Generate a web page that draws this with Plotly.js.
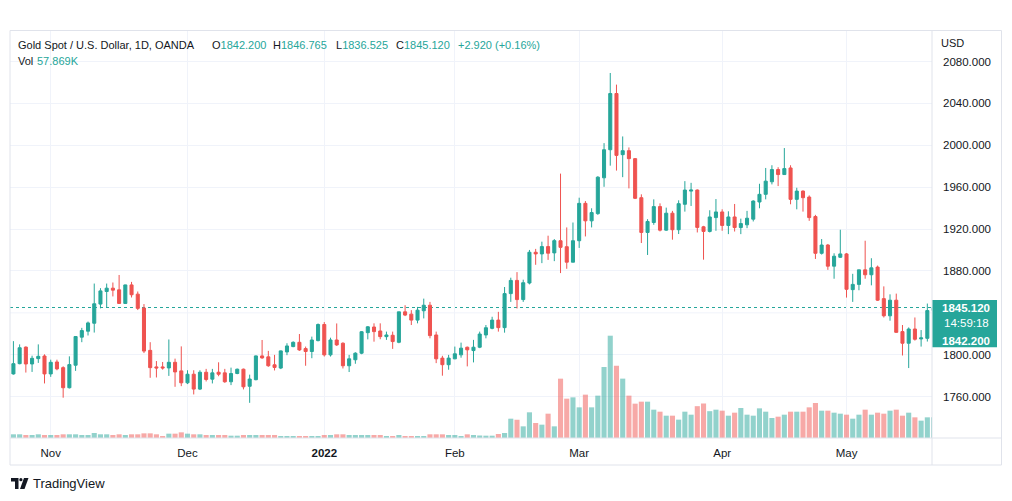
<!DOCTYPE html>
<html><head><meta charset="utf-8">
<script src="https://cdn.plot.ly/plotly-3.0.1.min.js"></script>
<style>html,body{margin:0;padding:0;background:#fff;}#chart{width:1012px;height:501px;}</style>
</head><body><div id="chart"></div>
<script>
const dates = [
'2021-10-22','2021-10-25','2021-10-26','2021-10-27','2021-10-28','2021-10-29',
'2021-11-01','2021-11-02','2021-11-03','2021-11-04','2021-11-05','2021-11-08','2021-11-09','2021-11-10','2021-11-11','2021-11-12',
'2021-11-15','2021-11-16','2021-11-17','2021-11-18','2021-11-19','2021-11-22','2021-11-23','2021-11-24','2021-11-25','2021-11-26','2021-11-29','2021-11-30',
'2021-12-01','2021-12-02','2021-12-03','2021-12-06','2021-12-07','2021-12-08','2021-12-09','2021-12-10','2021-12-13','2021-12-14','2021-12-15',
'2021-12-16','2021-12-17','2021-12-20','2021-12-21','2021-12-22','2021-12-23','2021-12-27','2021-12-28','2021-12-29','2021-12-30','2021-12-31',
'2022-01-03','2022-01-04','2022-01-05','2022-01-06','2022-01-07','2022-01-10','2022-01-11','2022-01-12','2022-01-13','2022-01-14',
'2022-01-17','2022-01-18','2022-01-19','2022-01-20','2022-01-21','2022-01-24','2022-01-25','2022-01-26','2022-01-27','2022-01-28','2022-01-31',
'2022-02-01','2022-02-02','2022-02-03','2022-02-04','2022-02-07','2022-02-08','2022-02-09','2022-02-10','2022-02-11',
'2022-02-14','2022-02-15','2022-02-16','2022-02-17','2022-02-18','2022-02-21','2022-02-22','2022-02-23','2022-02-24','2022-02-25','2022-02-28',
'2022-03-01','2022-03-02','2022-03-03','2022-03-04','2022-03-07','2022-03-08','2022-03-09','2022-03-10','2022-03-11',
'2022-03-14','2022-03-15','2022-03-16','2022-03-17','2022-03-18','2022-03-21','2022-03-22','2022-03-23','2022-03-24','2022-03-25',
'2022-03-28','2022-03-29','2022-03-30','2022-03-31',
'2022-04-01','2022-04-04','2022-04-05','2022-04-06','2022-04-07','2022-04-08','2022-04-11','2022-04-12','2022-04-13','2022-04-14',
'2022-04-18','2022-04-19','2022-04-20','2022-04-21','2022-04-22','2022-04-25','2022-04-26','2022-04-27','2022-04-28','2022-04-29',
'2022-05-02','2022-05-03','2022-05-04','2022-05-05','2022-05-06','2022-05-09','2022-05-10','2022-05-11','2022-05-12','2022-05-13',
'2022-05-16','2022-05-17','2022-05-18','2022-05-19','2022-05-20'
];
const opens = [
1781.7,1791.5,1807.3,1791.2,1796.3,1798.8,1781.7,1793.1,1787.7,1768.5,
1790,1816.8,1822.5,1830.1,1848.4,1860.4,1863.6,1862,1849,1866.7,
1857.9,1844.6,1804.2,1788.4,1788.4,1787.4,1792.8,1784.6,1773.2,1781.4,
1767.2,1783.3,1776.7,1783.3,1782.7,1774.2,1782.1,1786.2,1769.9,1776.2,
1798.9,1798,1790.4,1787.3,1802.7,1807.8,1811.9,1805.9,1803.1,1813.5,
1828.9,1799.9,1814.1,1811,1789.5,1795.2,1801.5,1821.1,1826.5,1822.7,
1817.3,1818.6,1811.9,1841,1838.8,1833.1,1842,1847.3,1818.9,1796.8,
1790.5,1796.1,1799.9,1807.2,1804,1807.2,1818.9,1825.2,1833.1,1825.9,
1858.4,1871,1852.7,1868.5,1897.9,1896.3,1903.3,1897.3,1908.9,1903.2,
1888.4,1908.9,1944.6,1927.9,1934.8,1969,1995.8,2049.5,1991.1,1994.9,
1987.3,1950,1916.8,1926.3,1941.5,1919,1935.2,1919.4,1943.7,1956.3,
1957.3,1922.2,1917.8,1931,1936.4,1923.5,1931.6,1921.5,1924.1,1929.5,
1945.9,1953.2,1965.2,1976.9,1972.1,1978.4,1948.4,1956.3,1950.6,1932,
1896.9,1904.8,1884.6,1893.1,1896.3,1862.2,1867.2,1881.1,1876.4,1883.7,
1853.6,1837.2,1852.1,1822.1,1811,1824.6,1815.1,1815.7,1842.2
];
const highs = [
1813,1809.9,1808,1799.1,1809.9,1800.4,1795.3,1795.3,1789,1798.5,
1817.8,1825.7,1831.7,1868,1863.6,1868,1869,1876.2,1866.9,1869.6,
1860.4,1848.4,1812,1794,1793.1,1814.6,1796.3,1808,1785.2,1785.2,
1785.2,1786.5,1786.5,1792.8,1786.5,1787.7,1786.8,1786.8,1781,1799.3,
1814.1,1803.7,1799.9,1804,1811,1812.8,1819.8,1807.8,1817.3,1829.9,
1831.2,1816.3,1829.9,1811.9,1799.9,1802.4,1822.6,1827.4,1830,1830,
1822.1,1822.1,1841,1847.3,1842.6,1845.7,1853.6,1850.5,1822.1,1799,
1799.9,1807.8,1811.6,1807.8,1814.2,1822.1,1828.4,1836.3,1841,1864.7,
1873.6,1878.9,1871.7,1900.1,1901.1,1908,1913.7,1910.5,1973,1921.6,
1926.3,1950,1946.8,1939.9,1970.5,2002.1,2069.1,2058,2008.5,1998,
1987.9,1953.2,1929.5,1948.4,1944.6,1940.5,1937.4,1947.5,1965.8,1964.2,
1957.9,1923.1,1938,1948.7,1938.9,1937,1944,1930,1937.4,1947.5,
1963.3,1978.4,1981,1979.1,1997.4,1981,1959.5,1957,1952.2,1933.6,
1910.5,1905.8,1896.9,1919.4,1897.2,1877.3,1881.1,1908.9,1892.2,1885.2,
1865.3,1857.7,1858.4,1828.4,1826.1,1835.6,1823.6,1848.9,1846.765
];
const lows = [
1781,1790.9,1783,1783.6,1792.2,1772.6,1778.9,1785.2,1759,1767.8,
1784.6,1812,1818.4,1821.2,1844.3,1845.2,1855.7,1848.7,1848.7,1854.7,
1842.7,1801.6,1778,1778.3,1785.8,1779.8,1769.4,1770,1772,1762.1,
1766.3,1774.5,1772.6,1779.5,1773.2,1771,1781.4,1766.9,1754.1,1775.6,
1796.1,1788.5,1785,1786.3,1799.6,1807.2,1803.7,1789.5,1796.7,1812.8,
1798.3,1798.3,1808.4,1786.9,1783.5,1791.4,1800.5,1814.7,1812.5,1814.8,
1814.2,1805.6,1811,1836.9,1828.4,1830,1834.7,1815.7,1792,1780,
1785.7,1795.8,1797.2,1788.9,1792.7,1806.3,1815.7,1824.3,1822.1,1821.1,
1850.5,1844.2,1850.5,1867.2,1885.9,1887.5,1890.6,1889.4,1878,1882.1,
1888.4,1902,1913,1921.6,1933.6,1960.4,1980.6,1975.9,1969.6,1958.9,
1948.7,1906.7,1895.3,1924.1,1917.8,1918.4,1909.9,1915.3,1936.7,1942.1,
1916.8,1890.8,1916.8,1918.4,1918.4,1915.2,1917.7,1915.2,1920.9,1927.3,
1939.9,1948.4,1962.7,1961.1,1972.1,1943.7,1938.9,1936.7,1927.9,1891.5,
1895.7,1881.1,1872.6,1892.5,1854.6,1850.5,1861.6,1872.6,1866.3,1851.4,
1835.6,1832.5,1821.1,1799.3,1787.3,1813.5,1807.8,1812.6,1836.525
];
const closes = [
1791.5,1806.7,1791.2,1796.6,1798.5,1781.7,1792.8,1786.5,1768.5,1790.6,
1817.4,1823.1,1830.4,1848.7,1861,1863.6,1861.7,1849,1866.7,1857.3,
1844.3,1803.5,1787.7,1787.4,1787.4,1792.8,1783.6,1773.2,1781.4,1767.2,
1783.3,1776.4,1782.7,1781.4,1774.2,1782.1,1786.2,1769.4,1776.8,1798.9,
1797,1789.5,1787.9,1803.7,1808.4,1811.9,1804.6,1803.1,1814.1,1828.9,
1799.9,1814.1,1809.4,1789.5,1796.1,1801.5,1822,1826.7,1822.1,1817.3,
1818.9,1812.6,1841,1837.9,1833.1,1842.6,1847.3,1818.3,1796.1,1790.5,
1796.8,1800.9,1806.3,1804.7,1807.2,1819.8,1825.8,1833.1,1825.9,1858.4,
1871,1852.7,1868.8,1897.9,1896.3,1903.3,1897,1909,1902.6,1888.4,
1908.9,1944.6,1927.9,1935.8,1969.6,1995.8,2049.5,1990.4,1994.9,1987.3,
1949.4,1916.8,1927.3,1941.5,1919,1935.2,1919.4,1944.3,1957.3,1957.3,
1921.6,1917.8,1931.6,1936.4,1923.5,1931.6,1921.5,1925.3,1930.4,1946.8,
1953.2,1965.8,1976.9,1972.1,1977.8,1948.4,1956.3,1950,1931,1896.9,
1904.8,1884.6,1894.1,1896.3,1862.5,1867.2,1881.1,1876.4,1883,1852.1,
1837.2,1852.1,1821.4,1811,1824.6,1814.8,1816.1,1842.2,1845.12
];
const volumesK = [
10.3,10.3,8.4,8.4,10.3,8.4,8.4,8.4,10.3,10.3,
10.3,8.4,8.4,14,10.3,10.3,8.4,10.3,8.4,10.3,
10.3,13,13,10.3,5.6,12.1,12.1,15.8,12.1,10.3,
10.3,8.4,8.4,8.4,8.4,6.5,6.5,8.4,8.4,8.4,
8.4,8.4,8.4,5.6,5.6,5.6,5.6,5.6,5.6,5.6,
8.4,8.4,10.3,10.3,8.4,8.4,8.4,8.4,8.4,8.4,
5.6,5.6,8.4,5.6,5.6,5.6,5.6,10.3,10.3,10.3,
8.4,8.4,5.6,10.3,8.4,7,6.5,6.5,11.2,14,
54,51,32.6,71.8,42,37.3,68,32.6,165.9,110,
113.7,85.7,121.2,85.7,118.4,198.5,286,202,166,118.4,
96,101.6,101.6,79.2,73.6,62.4,62.4,51.3,73.6,65.2,
89,96.5,75,79.2,76.4,62.4,70.8,83.9,65.2,62.4,
82.9,73.6,55.9,59.6,65.2,73.6,73.6,73.6,85.7,97.9,
76.4,76.4,70.8,68,65.2,54,65.2,79.2,65.2,70.8,
68,76.4,79.2,62.4,70.8,57.8,48.5,57.8,57.869
];
const tickDates = ['2021-11-01','2021-12-01','2022-01-03','2022-02-01','2022-03-01','2022-04-01','2022-05-02'];
const tickLabels = ['Nov','Dec','<b>2022</b>','Feb','Mar','Apr','May'];
const priceGrid = [1760, 1800, 1840, 1880, 1920, 1960, 2000, 2040, 2080];
const priceLabelled = [1760, 1800, 1880, 1920, 1960, 2000, 2040, 2080];
const symbolTitle = 'Gold Spot / U.S. Dollar, 1D, OANDA';
const currency = 'USD';
const countdown = '14:59:18';
const brand = 'TradingView';

const UP = '#26a69a', DOWN = '#ef5350', TXT = '#131722', GRID = '#f0f3fa', BORDER = '#e0e3eb';
const FONT = 'Liberation Sans, Arial, sans-serif';
const PL = 10, PR = 932, PT = 31, PB = 438;
const px = x => (x - PL) / (PR - PL);
const py = y => (PB - y) / (PB - PT);

const n = closes.length;
const last = n - 1;
const volColors = closes.map((c, i) => c >= opens[i] ? 'rgba(38,166,154,0.5)' : 'rgba(239,83,80,0.5)');
const lastUp = closes[last] >= opens[last];
const hc = lastUp ? UP : DOWN;
const chg = closes[last] - closes[last - 1];
const pct = chg / closes[last - 1] * 100;

const traces = [
  {type: 'bar', x: dates, y: volumesK, marker: {color: volColors, line: {width: 0}}, xaxis: 'x', yaxis: 'y', hoverinfo: 'skip'},
  {type: 'candlestick', x: dates, open: opens, high: highs, low: lows, close: closes, xaxis: 'x', yaxis: 'y2',
   increasing: {line: {color: UP, width: 1}, fillcolor: UP},
   decreasing: {line: {color: DOWN, width: 1}, fillcolor: DOWN},
   whiskerwidth: 0, hoverinfo: 'skip'}
];

function ann(x, y, text, opts) {
  return Object.assign({xref: 'paper', yref: 'paper', x: px(x), y: py(y), text: text, showarrow: false,
    xanchor: 'left', yanchor: 'middle', borderpad: 0, font: {family: FONT, size: 11, color: TXT}}, opts || {});
}
const teal = s => '<span style="color:' + hc + '">' + s + '</span>';
const tagFont = {family: FONT, size: 11.5, color: '#ffffff'};
const annotations = [
  ann(17, 44.5, symbolTitle),
  ann(211, 44.5, 'O' + teal(opens[last].toFixed(3))),
  ann(272, 44.5, 'H' + teal(highs[last].toFixed(3))),
  ann(335, 44.5, 'L' + teal(lows[last].toFixed(3))),
  ann(395, 44.5, 'C' + teal(closes[last].toFixed(3))),
  ann(457, 44.5, teal((chg >= 0 ? '+' : '') + chg.toFixed(3) + ' (' + (pct >= 0 ? '+' : '') + pct.toFixed(2) + '%)')),
  ann(17, 61.5, 'Vol'),
  ann(36, 61.5, teal(volumesK[last].toFixed(3) + 'K')),
  ann(940, 43.5, currency),
  ann(966, 308.3, '<b>' + closes[last].toFixed(3) + '</b>', {xanchor: 'center', font: tagFont}),
  ann(966, 322.7, countdown, {xanchor: 'center', font: tagFont}),
  ann(966, 340.7, '<b>' + opens[last].toFixed(3) + '</b>', {xanchor: 'center', font: tagFont}),
  ann(32, 483.5, brand, {font: {family: FONT, size: 13, color: TXT}})
];

function pathPx(pts) {
  return 'M' + pts.map(p => px(p[0]) + ',' + py(p[1])).join(' L') + ' Z';
}
const shapes = [
  {type: 'line', xref: 'paper', yref: 'y2', x0: 0, x1: 1, y0: 1840, y1: 1840,
   line: {color: GRID, width: 1}, layer: 'below'},
  {type: 'line', xref: 'paper', yref: 'y2', x0: 0, x1: 1, y0: closes[last], y1: closes[last],
   line: {color: UP, width: 1, dash: 'dot'}, layer: 'below'},
  {type: 'rect', xref: 'paper', yref: 'paper', x0: px(10), x1: px(1001.5), y0: py(465), y1: py(30.5),
   line: {color: BORDER, width: 1}, fillcolor: 'rgba(0,0,0,0)', layer: 'above'},
  {type: 'line', xref: 'paper', yref: 'paper', x0: 1, x1: 1, y0: py(465), y1: py(30.5), line: {color: BORDER, width: 1}, layer: 'above'},
  {type: 'line', xref: 'paper', yref: 'paper', x0: 0, x1: px(1001.5), y0: 0, y1: 0, line: {color: BORDER, width: 1}, layer: 'above'},
  {type: 'rect', xref: 'paper', yref: 'paper', x0: px(932.5), x1: px(997), y0: py(347.3), y1: py(300),
   line: {width: 0}, fillcolor: UP, layer: 'above'},
  {type: 'path', xref: 'paper', yref: 'paper', path: pathPx([[11,478],[18.5,478],[18.5,489],[15,489],[15,481.5],[11,481.5]]),
   fillcolor: TXT, line: {width: 0}, layer: 'above'},
  {type: 'circle', xref: 'paper', yref: 'paper', x0: px(19.3), x1: px(22.5), y0: py(481.3), y1: py(478.1),
   fillcolor: TXT, line: {width: 0}, layer: 'above'},
  {type: 'path', xref: 'paper', yref: 'paper', path: pathPx([[24,478],[28.5,478],[24.5,489],[20,489]]),
   fillcolor: TXT, line: {width: 0}, layer: 'above'}
];

const layout = {
  width: 1012, height: 501,
  margin: {l: PL, r: 1012 - PR, t: PT, b: 501 - PB, pad: 0},
  paper_bgcolor: '#ffffff', plot_bgcolor: '#ffffff',
  font: {family: FONT, size: 11.5, color: TXT},
  showlegend: false, hovermode: false,
  bargap: 0.18, boxgap: 0.3,
  xaxis: {type: 'category', categoryorder: 'array', categoryarray: dates,
    range: [-0.55, 147.75], rangeslider: {visible: false},
    tickmode: 'array', tickvals: tickDates, ticktext: tickLabels,
    showgrid: true, gridcolor: GRID, gridwidth: 1, showline: false, zeroline: false,
    ticks: '', ticklabelstandoff: 6, tickfont: {family: FONT, size: 11.5, color: TXT}},
  yaxis: {range: [0, 1138], visible: false, showgrid: false, zeroline: false, fixedrange: true},
  yaxis2: {overlaying: 'y', side: 'right', range: [1720.5, 2109.2],
    tickmode: 'array', tickvals: priceLabelled, ticktext: priceLabelled.map(v => v.toFixed(3)),
    showgrid: true, gridcolor: GRID, gridwidth: 1, zeroline: false, showline: false, ticks: '',
    ticklabelstandoff: 10, tickfont: {family: FONT, size: 11.5, color: TXT}},
  annotations: annotations,
  shapes: shapes
};

Plotly.newPlot('chart', traces, layout, {staticPlot: true, displayModeBar: false});
</script>
</body></html>
